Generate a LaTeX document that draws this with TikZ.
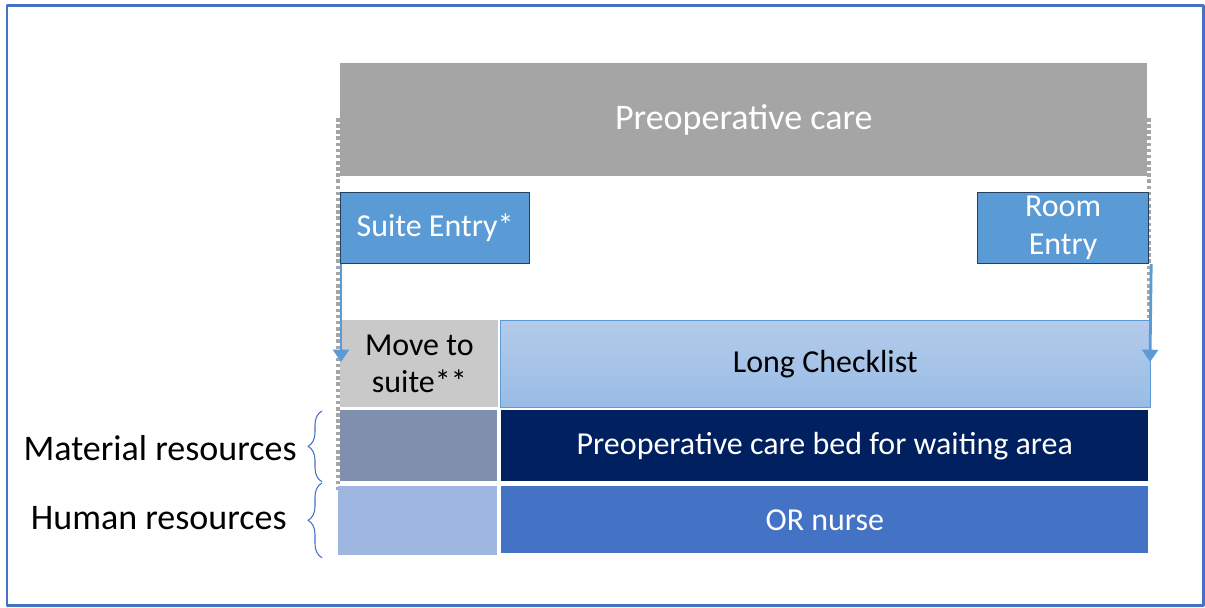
\documentclass[tikz,border=0pt]{standalone}
\usepackage{fontspec}
\setmainfont{Carlito}
\usetikzlibrary{arrows.meta,decorations.pathreplacing}
\definecolor{framecol}{HTML}{4472C4}
\definecolor{headgray}{HTML}{A5A5A5}
\definecolor{entryblue}{HTML}{5B9BD5}
\definecolor{entryline}{HTML}{263F5E}
\definecolor{movegray}{HTML}{C9C9C9}
\definecolor{listtop}{HTML}{B4CBEA}
\definecolor{listbot}{HTML}{98BCE6}
\definecolor{matleft}{HTML}{7F8FAD}
\definecolor{navy}{HTML}{002060}
\definecolor{humleft}{HTML}{9FB6E0}
\begin{document}
\begin{tikzpicture}[x=0.02cm,y=-0.02cm,line join=round,
  box/.style={inner sep=0pt,anchor=north west,align=center,font=\fontsize{18.2}{21.6}\selectfont},
  entry/.style={box,fill=entryblue,draw=entryline,line width=0.7pt,text=white},
  bar/.style={box,text=white},
  guide/.style={headgray,line width=2pt,dash pattern=on 2pt off 1.5pt},
  flow/.style={entryblue,line width=1.6pt,-{Triangle[length=7pt,width=9pt]}},
  curly/.style={framecol,line width=0.6pt,decorate,decoration={brace,amplitude=0.28cm}},
  side/.style={anchor=east,inner sep=0pt,font=\fontsize{20.5}{24}\selectfont}]
\useasboundingbox (0,0) rectangle (1205,608);
\draw[framecol,line width=0.06cm] (7,6) rectangle (1203,605);
% top bar
\node[bar,fill=headgray,minimum width=16.14cm,minimum height=2.26cm,font=\fontsize{20.5}{24}\selectfont] (preop) at (340,63) {Preoperative care};
% dotted guides
\coordinate (gl1) at (338,118);
\coordinate (gl2) at (338,490);
\coordinate (gr1) at (1149,118);
\coordinate (gr2) at (1149,362);
\draw[guide] (gl1) -- (gl2);
\draw[guide] (gr1) -- (gr2);
% entries
\node[entry,minimum width=3.78cm,minimum height=1.42cm] (suite) at (340,192) {Suite Entry*};
\node[entry,minimum width=3.42cm,minimum height=1.42cm] (room) at (977,192) {Room\\Entry};
% activities
\node[box,fill=movegray,minimum width=3.16cm,minimum height=1.74cm] (move) at (340,320) {Move to\\suite**};
\node[box,top color=listtop,bottom color=listbot,draw=entryblue,line width=0.4pt,minimum width=13cm,minimum height=1.74cm] (list) at (500,320) {Long Checklist};
% resources
\node[box,fill=matleft,minimum width=3.14cm,minimum height=1.42cm] (matl) at (340,410) {};
\node[bar,fill=navy,minimum width=12.94cm,minimum height=1.42cm] (matr) at (501,410) {Preoperative care bed for waiting area};
\node[box,fill=humleft,minimum width=3.18cm,minimum height=1.38cm] (huml) at (338,486) {};
\node[bar,fill=framecol,minimum width=12.94cm,minimum height=1.34cm] (humr) at (501,486) {OR nurse};
% arrows
\coordinate (sa) at (341,362);
\coordinate (ra) at (1150,362);
\draw[flow] ([xshift=0.02cm]suite.south west) -- (sa);
\draw[flow] ([xshift=0.04cm]room.south east) -- (ra);
% braces
\draw[curly] ([xshift=-0.36cm]matl.south west) -- ([xshift=-0.36cm,yshift=-0.02cm]matl.north west);
\draw[curly] ([xshift=-0.32cm,yshift=-0.04cm]huml.south west) -- ([xshift=-0.32cm,yshift=0.06cm]huml.north west);
\node[side] (mat) at (297,448) {Material resources};
\node[side] (hum) at (287,518) {Human resources};
\end{tikzpicture}
\end{document}
